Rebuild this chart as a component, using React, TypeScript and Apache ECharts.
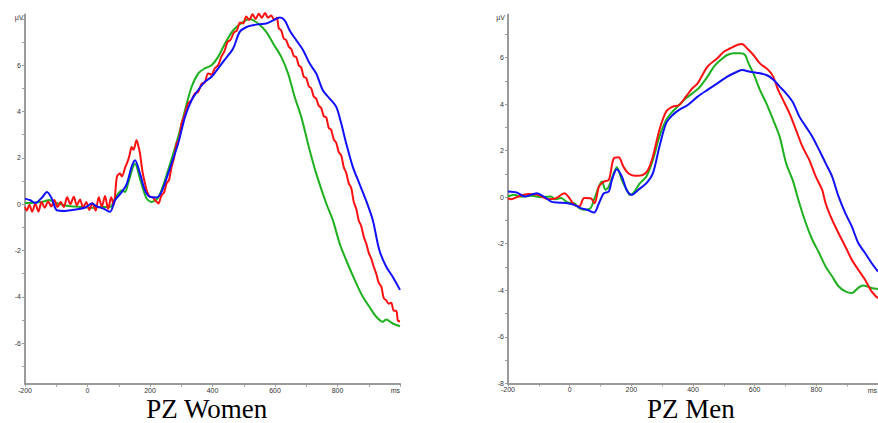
import React, { useEffect, useRef } from "react";
import * as echarts from "echarts";

// ---- axes ----
const timeMin = -200;
const timeMax = 1000;
const xTickValues = [-200, -100, 0, 100, 200, 300, 400, 500, 600, 700, 800, 900, 1000];
const xLabelValues = [-200, 0, 200, 400, 600, 800];
const womenYMin = -7.75;
const womenYMax = 8.19;
const womenYTicks = [-7, -6, -5, -4, -3, -2, -1, 0, 1, 2, 3, 4, 5, 6, 7, 8];
const womenYLabels = [-6, -4, -2, 0, 2, 4, 6];
const menYMin = -8;
const menYMax = 7.85;
const menYTicks = [-8, -7, -6, -5, -4, -3, -2, -1, 0, 1, 2, 3, 4, 5, 6, 7];
const menYLabels = [-8, -6, -4, -2, 0, 2, 4, 6];
const panelTitles = ["PZ Women", "PZ Men"];
const unitY = "µV";
const unitX = "ms";

// ---- series: [ms, µV] ----
const womenGreen = [
  [-200, 0.05], [-180, 0.05], [-160, 0.08], [-140, 0.12], [-122, 0.18], [-100, 0.05], [-80, -0.02],
  [-60, -0.08], [-40, -0.1], [-20, -0.12], [0, -0.14], [20, -0.15], [40, -0.12], [60, -0.12],
  [75, -0.1], [88, 0.25], [110, 0.6], [120, 0.53], [130, 0.9], [152, 1.75], [170, 1.0], [189, 0.25],
  [205, 0.1], [227, 0.3], [258, 1.47], [290, 2.9], [312, 4.06], [333, 5.06], [354, 5.64],
  [375, 5.86], [397, 6.0], [418, 6.36], [440, 6.94], [466, 7.5], [498, 7.87], [519, 8.0],
  [546, 7.8], [572, 7.44], [594, 6.94], [620, 6.36], [642, 5.64], [663, 4.63], [684, 3.77],
  [711, 2.33], [732, 1.32], [764, 0.03], [785, -0.69], [807, -1.7], [828, -2.42], [860, -3.42],
  [881, -4.0], [902, -4.43], [924, -4.86], [945, -5.08], [955, -4.98], [977, -5.15], [1000, -5.27],
];

const womenRed = [
  [-200, -0.12], [-194, -0.28], [-186, -0.02], [-177, -0.32], [-167, 0.02], [-157, -0.32],
  [-147, 0.1], [-137, -0.15], [-126, 0.12], [-116, -0.1], [-106, 0.18], [-96, -0.12], [-86, 0.1],
  [-76, -0.12], [-65, 0.3], [-55, 0.0], [-44, 0.32], [-34, -0.05], [-24, 0.2], [-14, -0.15],
  [-4, 0.1], [6, -0.25], [16, 0.05], [26, -0.28], [36, 0.3], [46, -0.1], [56, 0.35], [66, -0.2],
  [76, 0.3], [84, -0.05], [94, 1.18], [104, 1.32], [110, 1.2], [121, 1.6], [130, 1.9], [136, 2.2],
  [141, 2.47], [147, 2.35], [157, 2.76], [163, 2.5], [168, 2.19], [176, 1.4], [184, 0.89],
  [192, 0.5], [200, 0.32], [208, 0.3], [216, 0.17], [222, 0.1], [227, 0.03], [237, 0.39],
  [245, 0.5], [253, 0.9], [261, 1.05], [269, 1.61], [277, 2.0], [285, 2.62], [293, 2.8],
  [301, 3.48], [312, 3.9], [322, 4.35], [333, 4.5], [344, 4.78], [354, 4.85], [365, 5.2],
  [375, 5.25], [386, 5.64], [397, 5.6], [407, 5.86], [418, 6.0], [428, 6.36], [438, 6.6],
  [448, 7.0], [458, 7.1], [468, 7.4], [478, 7.5], [488, 7.85], [498, 7.8], [508, 8.1], [518, 7.95],
  [528, 8.2], [538, 8.0], [548, 8.22], [558, 8.05], [568, 8.25], [578, 8.05], [588, 8.15],
  [598, 7.95], [606, 8.05], [612, 7.6], [620, 7.5], [628, 7.15], [636, 7.08], [644, 6.8],
  [652, 6.7], [660, 6.4], [668, 6.35], [676, 6.0], [684, 5.9], [692, 5.5], [700, 5.45], [708, 5.1],
  [716, 5.0], [724, 4.65], [732, 4.55], [740, 4.25], [748, 4.15], [756, 3.8], [764, 3.75],
  [772, 3.3], [780, 3.2], [788, 2.8], [796, 2.65], [804, 2.25], [812, 2.1], [820, 1.6], [828, 1.35],
  [836, 0.9], [844, 0.7], [852, 0.1], [860, -0.2], [868, -0.7], [876, -0.95], [884, -1.4],
  [892, -1.7], [900, -2.1], [908, -2.35], [916, -2.7], [924, -3.0], [932, -3.4], [940, -3.55],
  [948, -4.05], [956, -4.15], [964, -4.3], [972, -4.25], [980, -4.6], [988, -4.6], [994, -5.05],
  [1000, -5.05],
];

const womenBlue = [
  [-200, 0.24], [-183, 0.17], [-167, 0.05], [-146, 0.28], [-130, 0.53], [-114, 0.24], [-98, -0.26],
  [-71, -0.29], [-39, -0.23], [-7, -0.14], [14, 0.03], [30, -0.1], [51, -0.19], [72, -0.33],
  [88, 0.17], [110, 0.53], [126, 0.89], [141, 1.61], [152, 1.9], [168, 1.32], [184, 0.6],
  [200, 0.32], [221, 0.29], [237, 0.53], [258, 1.32], [290, 2.62], [312, 3.77], [333, 4.49],
  [354, 4.92], [375, 5.28], [397, 5.5], [418, 5.86], [440, 6.25], [466, 6.72], [487, 7.44],
  [509, 7.65], [530, 7.73], [551, 7.77], [572, 7.8], [594, 7.94], [615, 8.06], [631, 7.94],
  [647, 7.5], [668, 7.08], [690, 6.65], [711, 6.07], [732, 5.64], [753, 4.92], [775, 4.56],
  [796, 4.2], [812, 3.48], [828, 2.62], [849, 1.61], [870, 0.89], [892, 0.14], [913, -0.69],
  [934, -1.99], [956, -2.7], [977, -3.14], [1000, -3.7],
];

const menGreen = [
  [-200, 0.03], [-182, 0.1], [-155, 0.02], [-123, 0.06], [-91, 0.0], [-60, 0.03], [-49, -0.09],
  [-28, -0.04], [-6, -0.23], [15, -0.26], [31, -0.47], [47, -0.54], [68, -0.47], [79, -0.11],
  [95, 0.46], [105, 0.67], [116, 0.31], [127, 0.46], [143, 1.03], [153, 1.28], [169, 0.74],
  [185, 0.31], [196, 0.1], [206, 0.17], [228, 0.6], [249, 0.89], [270, 1.6], [291, 2.6],
  [313, 3.32], [334, 3.68], [355, 3.96], [377, 4.25], [398, 4.46], [420, 4.7], [447, 5.18],
  [468, 5.61], [489, 5.89], [511, 6.11], [532, 6.18], [553, 6.18], [569, 6.11], [580, 5.75],
  [596, 5.32], [617, 4.61], [638, 4.03], [660, 3.32], [681, 2.6], [702, 1.46], [723, 0.74],
  [745, -0.26], [766, -1.12], [787, -1.83], [809, -2.4], [830, -2.98], [851, -3.4], [872, -3.83],
  [894, -4.05], [915, -4.12], [936, -3.9], [950, -3.8], [979, -3.9], [1000, -3.95],
];

const menRed = [
  [-200, -0.04], [-190, -0.09], [-166, 0.03], [-134, 0.14], [-102, 0.1], [-70, -0.09], [-44, -0.04],
  [-17, 0.17], [-1, -0.04], [15, -0.33], [31, -0.4], [47, -0.04], [68, -0.05], [81, -0.26],
  [95, 0.46], [111, 0.67], [127, 0.74], [143, 1.67], [159, 1.72], [174, 1.32], [190, 1.03],
  [212, 0.92], [238, 0.96], [254, 1.17], [270, 1.75], [291, 2.89], [313, 3.68], [334, 3.89],
  [355, 3.96], [377, 4.32], [398, 4.68], [415, 4.89], [447, 5.61], [479, 5.97], [500, 6.25],
  [521, 6.4], [543, 6.54], [559, 6.58], [575, 6.4], [596, 6.11], [617, 5.75], [644, 5.47],
  [660, 5.18], [676, 4.61], [692, 4.18], [713, 3.6], [734, 2.89], [755, 2.17], [777, 1.6],
  [798, 0.89], [819, 0.31], [830, -0.26], [851, -0.97], [872, -1.55], [894, -2.12], [915, -2.69],
  [936, -3.12], [958, -3.55], [979, -4.05], [1000, -4.35],
];

const menBlue = [
  [-200, 0.24], [-172, 0.2], [-145, 0.03], [-107, 0.17], [-81, 0.0], [-60, -0.19], [-38, -0.23],
  [-6, -0.26], [15, -0.33], [36, -0.47], [57, -0.54], [79, -0.66], [95, -0.26], [111, 0.17],
  [127, 0.24], [137, 0.74], [153, 1.2], [169, 0.89], [185, 0.31], [201, 0.1], [222, 0.31],
  [249, 0.6], [270, 1.03], [291, 2.17], [313, 3.18], [334, 3.53], [355, 3.75], [383, 3.96],
  [415, 4.32], [447, 4.61], [479, 4.89], [511, 5.18], [543, 5.39], [559, 5.47], [585, 5.39],
  [606, 5.35], [638, 5.25], [660, 5.06], [681, 4.75], [702, 4.46], [723, 4.1], [745, 3.46],
  [766, 3.03], [787, 2.6], [809, 2.03], [830, 1.46], [851, 0.89], [872, 0.03], [894, -0.69],
  [915, -1.26], [936, -1.97], [958, -2.4], [979, -2.83], [1000, -3.2],
];

const GREEN = "#1fb01f";
const RED = "#ff1010";
const BLUE = "#1010ff";
const AXIS = "#9a9a9a";
const LABEL = "#333333";
const SANS = "'Liberation Sans', Arial, sans-serif";
const SERIF = "'Liberation Serif', 'Times New Roman', serif";

function xAxisFor(gridIndex: number) {
  return {
    type: "value",
    gridIndex,
    min: timeMin,
    max: timeMax,
    axisLine: { show: true, onZero: false, lineStyle: { color: AXIS, width: 2 } },
    axisTick: { show: true, customValues: xTickValues, length: 3, lineStyle: { color: AXIS, width: 1 } },
    axisLabel: { customValues: xLabelValues, fontSize: 7, color: LABEL, margin: 3, fontFamily: SANS },
    splitLine: { show: false },
  };
}

function yAxisFor(gridIndex: number, min: number, max: number, ticks: number[], labels: number[]) {
  return {
    type: "value",
    gridIndex,
    min,
    max,
    axisLine: { show: true, onZero: false, lineStyle: { color: AXIS, width: 2 } },
    axisTick: { show: true, customValues: ticks, length: 3, lineStyle: { color: AXIS, width: 1 } },
    axisLabel: { customValues: labels, fontSize: 7, color: LABEL, margin: 4, fontFamily: SANS },
    splitLine: { show: false },
  };
}

function lineSeries(idx: number, data: number[][], color: string, z: number) {
  return {
    type: "line",
    xAxisIndex: idx,
    yAxisIndex: idx,
    data,
    showSymbol: false,
    symbol: "none",
    smooth: 0.3,
    clip: false,
    z,
    lineStyle: { color, width: 2 },
    emphasis: { disabled: true },
  };
}

function textEl(text: string, x: number, y: number, size: number, family: string, align: string, color: string) {
  return {
    type: "text",
    x,
    y,
    silent: true,
    style: { text, fill: color, fontSize: size, fontFamily: family, align, verticalAlign: "middle" },
  };
}

export default function App() {
  const ref = useRef<HTMLDivElement>(null);
  useEffect(() => {
    if (!ref.current) return;
    const chart = echarts.init(ref.current, null, { renderer: "svg" });
    chart.setOption({
      animation: false,
      backgroundColor: "#ffffff",
      grid: [
        { left: 25, top: 14.5, width: 375, height: 369.2 },
        { left: 508, top: 14.5, width: 376, height: 368.8 },
      ],
      xAxis: [xAxisFor(0), xAxisFor(1)],
      yAxis: [
        yAxisFor(0, womenYMin, womenYMax, womenYTicks, womenYLabels),
        yAxisFor(1, menYMin, menYMax, menYTicks, menYLabels),
      ],
      series: [
        lineSeries(0, womenGreen, GREEN, 2),
        lineSeries(0, womenRed, RED, 3),
        lineSeries(0, womenBlue, BLUE, 4),
        lineSeries(1, menGreen, GREEN, 2),
        lineSeries(1, menRed, RED, 3),
        lineSeries(1, menBlue, BLUE, 4),
      ],
      graphic: [
        textEl(unitY, 23.5, 17, 7, SANS, "right", LABEL),
        textEl(unitY, 505, 17, 7, SANS, "right", LABEL),
        textEl(unitX, 400, 390, 7, SANS, "right", LABEL),
        textEl(unitX, 877, 390, 7, SANS, "right", LABEL),
        textEl(panelTitles[0], 206.7, 408.5, 27, SERIF, "center", "#000"),
        textEl(panelTitles[1], 690.8, 408.5, 27, SERIF, "center", "#000"),
      ],
    });
    return () => chart.dispose();
  }, []);
  return (
    <div
      ref={ref}
      style={{ position: "fixed", left: 0, top: 0, width: 878, height: 423, background: "#fff" }}
    />
  );
}
